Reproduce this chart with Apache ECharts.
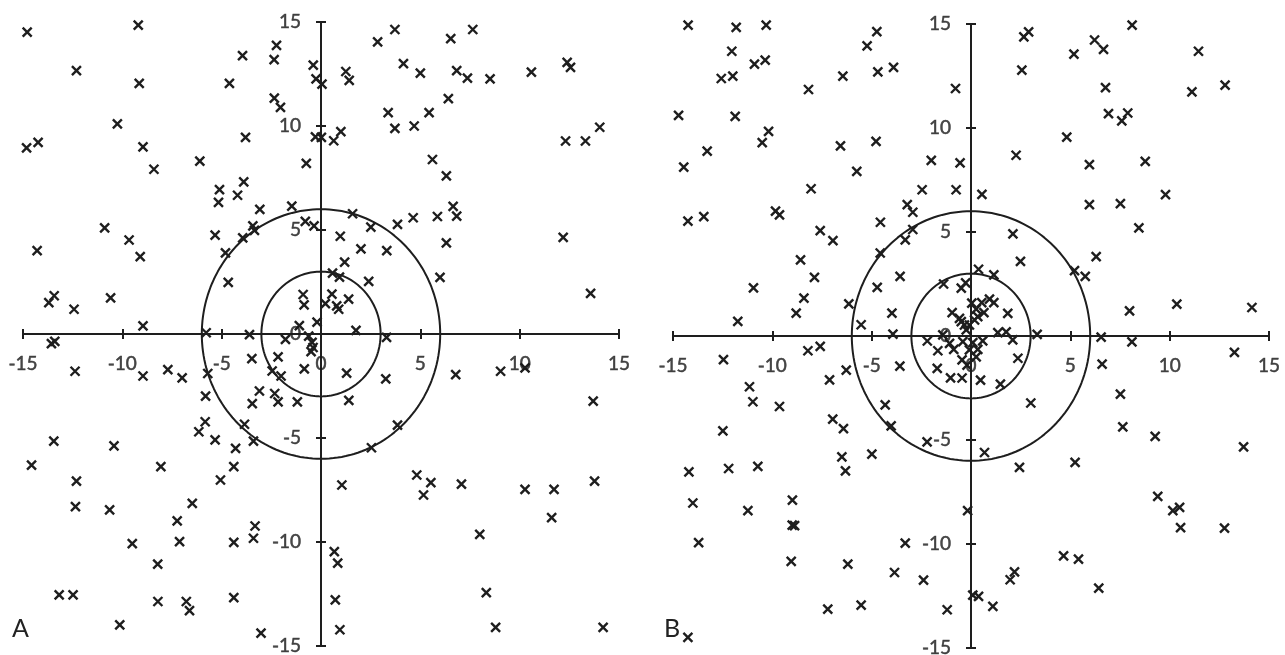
<!DOCTYPE html>
<html>
<head>
<meta charset="utf-8">
<script src="https://cdn.jsdelivr.net/npm/echarts@6/dist/echarts.min.js"></script>
<style>
html,body{margin:0;padding:0;background:#fff;}
#chart{width:1285px;height:655px;}
</style>
</head>
<body>
<div id="chart"></div>
<script>
// ---- data ----
const axisMin = -15, axisMax = 15, axisStep = 5;
const tickLabels = [-15, -10, -5, 0, 5, 10, 15];
const circleRadii = [3, 6];
const panelLabels = ['A', 'B'];

const pointsA = [
  [-14.79,14.51],[-9.20,14.85],[-12.31,12.66],[-9.15,12.05],[-14.82,8.95],[-14.24,9.21],[-10.25,10.10],[-8.96,9.00],[-8.41,7.92],[-6.10,8.31],
  [-14.29,4.01],[-10.89,5.10],[-9.66,4.52],[-9.10,3.72],[-13.70,1.51],[-13.43,1.84],[-12.43,1.19],[-10.59,1.74],[-8.96,0.39],
  [-3.95,13.38],[-4.61,12.05],[-2.24,13.88],[-2.36,13.19],[-0.39,12.93],[-0.25,12.27],[0.05,12.01],[-2.35,11.34],[-2.04,10.90],
  [-3.80,9.45],[-0.28,9.48],[0.02,9.45],[-0.74,8.20],[-5.11,6.94],[-5.16,6.33],[-3.89,7.31],[-4.20,6.67],[-3.08,5.99],[-1.47,6.15],
  [-0.79,5.41],[-0.35,5.20],[-5.33,4.75],[-3.43,5.20],[-3.35,4.98],[-3.94,4.62],[-4.81,3.90],[-4.67,2.48],[-0.90,1.90],[-0.85,1.40],
  [-0.20,0.57],[-1.09,0.40],[-5.78,0.06],[-3.60,-0.03],
  [3.72,14.64],[2.85,14.04],[6.53,14.20],[7.64,14.64],[4.15,13.00],[5.00,12.54],[1.25,12.62],[1.42,12.19],[6.83,12.66],[7.37,12.30],
  [8.51,12.27],[10.59,12.59],[12.39,13.06],[12.56,12.82],[6.41,11.32],[3.38,10.64],[5.44,10.64],[3.72,9.89],[4.69,10.00],[1.00,9.73],
  [0.64,9.29],[5.61,8.39],[6.31,7.60],[12.31,9.28],[13.31,9.28],[14.03,9.94],[6.65,6.14],[6.83,5.67],[5.86,5.65],[4.64,5.59],
  [3.85,5.27],[2.51,5.14],[1.59,5.78],[0.97,4.70],[6.31,4.38],[3.31,4.01],[2.01,4.09],[12.19,4.65],[1.19,3.46],[0.58,2.93],
  [0.93,2.73],[2.40,2.53],[5.99,2.72],[13.57,1.95],[0.55,1.92],[0.22,1.46],[0.79,1.35],[0.89,1.19],[1.39,1.68],[1.76,0.17],[3.30,-0.16],
  [-0.62,-0.10],[-0.45,-0.40],[-0.40,-0.65],[-0.50,-0.85],
  [-13.57,-0.46],[-13.40,-0.35],[-1.79,-0.26],[-12.38,-1.79],[-8.96,-2.02],[-7.71,-1.71],[-6.99,-2.11],[-5.70,-1.90],[-3.48,-1.18],[-2.16,-1.10],
  [-2.46,-1.78],[-2.01,-2.02],[-0.84,-1.68],[-5.81,-2.99],[-3.10,-2.74],[-3.46,-3.35],[-2.33,-2.86],[-2.16,-3.26],[-1.19,-3.26],[-5.83,-4.22],
  [-6.15,-4.70],[-5.33,-5.09],[-3.85,-4.34],[-3.40,-5.15],[-4.30,-5.50],[-4.39,-6.38],[-5.06,-7.02],[-6.48,-8.14],[-7.24,-8.98],[-3.32,-9.23],
  [-3.40,-9.82],[-4.39,-10.02],[-7.12,-9.98],[-9.50,-10.08],[-8.22,-11.06],[-13.45,-5.15],[-10.42,-5.38],[-14.57,-6.30],[-8.06,-6.38],[-12.31,-7.07],
  [-12.36,-8.30],[-10.64,-8.46],[-13.18,-12.54],[-12.48,-12.54],[-8.21,-12.86],[-6.78,-12.86],[-6.62,-13.30],[-4.39,-12.67],[-10.13,-13.98],[-3.02,-14.38],
  [1.29,-1.88],[3.26,-2.16],[6.78,-1.95],[9.04,-1.79],[10.27,-1.63],[1.40,-3.19],[3.85,-4.38],[2.54,-5.47],[13.70,-3.23],[4.82,-6.78],
  [5.53,-7.15],[5.16,-7.74],[7.07,-7.22],[1.05,-7.26],[10.27,-7.47],[11.73,-7.47],[13.77,-7.07],[11.61,-8.83],[7.99,-9.63],[0.67,-10.46],
  [0.84,-11.02],[0.72,-12.78],[0.95,-14.22],[8.32,-12.43],[8.79,-14.10],[14.20,-14.10]
];

const pointsB = [
  [-14.24,14.95],[-11.82,14.84],[-10.31,14.95],[-12.04,13.69],[-10.90,13.07],[-10.36,13.26],[-12.57,12.38],[-11.99,12.49],[-14.72,10.61],[-11.87,10.56],
  [-10.19,9.84],[-10.51,9.30],[-13.28,8.89],[-14.46,8.12],[-14.25,5.52],[-13.45,5.74],[-9.84,6.00],[-9.64,5.82],[-8.18,11.85],[-6.45,12.49],
  [-5.23,13.95],[-4.74,14.63],[-4.69,12.70],[-3.90,12.91],[-0.78,11.90],[-6.57,9.14],[-4.78,9.36],[-5.75,7.91],[-8.05,7.08],[-2.00,8.44],
  [-0.55,8.32],[-2.46,7.03],[-0.75,7.03],[-3.21,6.32],[-2.93,5.95],[-4.56,5.47],[-2.93,5.12],[-3.31,4.62],[-7.59,5.07],[-6.95,4.59],
  [-4.57,3.99],[-8.58,3.66],[-7.88,2.82],[-10.95,2.31],[-8.41,1.82],[-8.80,1.10],[-11.74,0.70],[-6.15,1.54],[-5.53,0.54],[-4.72,2.34],
  [-3.57,2.87],[-3.98,1.10],[-3.93,0.09],
  [-1.38,2.50],[-0.49,2.30],[-0.27,2.55],[0.38,3.21],[1.15,2.94],[0.04,1.58],[0.54,1.60],[0.93,1.77],[1.15,1.60],[0.26,1.29],
  [0.65,1.12],[1.85,1.09],[-0.95,1.12],[-0.58,0.85],[-0.49,0.69],[-0.33,0.53],[-0.24,0.29],[-0.08,0.53],[0.18,0.77],[0.34,0.93],
  [1.35,0.16],[1.77,0.20],[3.33,0.08],[-1.42,0.05],[-2.20,-0.24],[-1.67,-0.71],[-1.08,-0.35],[-0.87,-0.64],[-0.41,-0.27],[0.09,-0.32],
  [0.59,-0.23],[0.34,-0.64],[0.26,-1.00],[-0.08,-0.67],[2.10,-0.19],[-0.45,-1.15],[-0.20,-1.40],[-3.58,-1.45],[-1.70,-1.56],[2.36,-1.07],
  [-1.03,-2.01],[-0.45,-2.02],[0.48,-2.12],[1.48,-2.31],[3.01,-3.22],
  [8.11,14.95],[2.66,14.38],[2.90,14.62],[6.22,14.23],[6.67,13.78],[5.18,13.55],[11.45,13.69],[2.56,12.78],[6.77,11.94],[11.12,11.74],
  [12.79,12.06],[6.92,10.69],[7.89,10.72],[7.59,10.34],[4.82,9.56],[2.27,8.69],[5.96,8.24],[8.77,8.40],[0.55,6.81],[5.96,6.32],
  [7.52,6.36],[9.79,6.80],[8.45,5.20],[2.11,4.91],[2.49,3.59],[6.30,3.82],[5.21,3.14],[5.75,2.87],[7.98,1.21],[10.36,1.53],
  [14.14,1.37],[6.55,-0.05],
  [-8.21,-0.71],[-7.59,-0.50],[-12.46,-1.14],[-7.12,-2.11],[-6.28,-1.64],[-11.15,-2.44],[-10.98,-3.16],[-9.64,-3.39],[-4.32,-3.31],[-4.02,-4.32],
  [-6.96,-4.00],[-6.42,-4.45],[-12.49,-4.56],[-2.21,-5.09],[-4.99,-5.68],[-6.50,-5.81],[-6.32,-6.48],[-14.20,-6.53],[-12.20,-6.37],[-10.73,-6.27],
  [-14.00,-8.03],[-11.23,-8.40],[-8.99,-7.89],[-9.00,-9.09],[-8.88,-9.12],[-13.71,-9.93],[-9.05,-10.84],[-6.20,-10.97],[-3.85,-11.37],[-3.31,-9.96],
  [-2.39,-11.74],[-7.21,-13.13],[-5.53,-12.94],[-1.20,-13.16],[-14.25,-14.49],[-0.17,-8.40],
  [8.10,-0.28],[13.26,-0.79],[6.60,-1.35],[7.52,-2.79],[7.64,-4.37],[9.27,-4.83],[13.72,-5.33],[0.68,-5.60],[2.44,-6.32],[5.24,-6.08],
  [9.40,-7.71],[10.16,-8.40],[10.50,-8.24],[10.55,-9.21],[12.76,-9.24],[4.66,-10.57],[5.41,-10.73],[2.19,-11.34],[1.97,-11.72],[6.43,-12.12],
  [0.09,-12.46],[0.38,-12.52],[1.10,-13.00]
];

// ---- chart ----
const INK = '#1e1e1e';
const LABEL = '#1a1a1a';
const FONT = 'Lato, "Open Sans", sans-serif';

function circlePath(r) {
  const pts = [];
  for (let a = 0; a <= 360; a += 2) {
    const t = a * Math.PI / 180;
    pts.push([r * Math.cos(t), r * Math.sin(t)]);
  }
  return pts;
}

const boxes = [
  { left: 23, top: 22, width: 596, height: 624 },
  { left: 673, top: 24, width: 596, height: 624 }
];

function mkAxis(gridIndex, inside) {
  return {
    type: 'value', gridIndex: gridIndex,
    min: axisMin, max: axisMax, interval: axisStep,
    splitLine: { show: false },
    axisLine: { show: true, onZero: true, lineStyle: { color: INK, width: 2 } },
    axisTick: { show: true, inside: inside, length: 5, lineStyle: { color: INK, width: 2 } },
    axisLabel: { show: false }
  };
}

const labelStyle = { color: LABEL, fontSize: 19, fontFamily: FONT, textBorderColor: LABEL, textBorderWidth: 0.5 };

const grids = [], xAxes = [], yAxes = [], series = [];
[pointsA, pointsB].forEach((pts, p) => {
  const gMain = grids.length;
  grids.push(Object.assign({ outerBoundsMode: 'none', containLabel: false }, boxes[p]));
  xAxes.push(mkAxis(gMain, false));
  yAxes.push(mkAxis(gMain, false));
  const ai = xAxes.length - 1;
  // overlay grid with inward ticks so the ticks cross the axis lines
  const gOver = grids.length;
  grids.push(Object.assign({ outerBoundsMode: 'none', containLabel: false }, boxes[p]));
  xAxes.push(mkAxis(gOver, true));
  yAxes.push(mkAxis(gOver, true));

  circleRadii.forEach(r => {
    series.push({
      type: 'line', xAxisIndex: ai, yAxisIndex: ai, data: circlePath(r),
      showSymbol: false, smooth: false, silent: true,
      lineStyle: { color: INK, width: 2 }, z: 2
    });
  });
  series.push({
    type: 'scatter', xAxisIndex: ai, yAxisIndex: ai, data: pts,
    symbol: 'path://M0,0 L10,10 M10,0 L0,10', symbolSize: 9,
    itemStyle: { color: INK, borderColor: INK, borderWidth: 2.4, opacity: 1 },
    silent: true, z: 3
  });
  const hidden = { color: 'rgba(0,0,0,0)', borderWidth: 0 };
  // tick labels along the x axis (below the line)
  series.push({
    type: 'scatter', xAxisIndex: ai, yAxisIndex: ai, symbol: 'circle', symbolSize: 1, silent: true, z: 4,
    itemStyle: hidden,
    data: tickLabels.map(v => [v, 0]),
    label: Object.assign({ show: true, position: 'inside', offset: [0, 30], align: 'center', verticalAlign: 'middle',
      formatter: d => String(d.value[0]) }, labelStyle)
  });
  // tick labels along the y axis (left of the line)
  series.push({
    type: 'scatter', xAxisIndex: ai, yAxisIndex: ai, symbol: 'circle', symbolSize: 1, silent: true, z: 4,
    itemStyle: hidden,
    data: tickLabels.map(v => [0, v]),
    label: Object.assign({ show: true, position: 'inside', offset: [-20, 0], align: 'right', verticalAlign: 'middle',
      formatter: d => String(d.value[1]) }, labelStyle)
  });
});

const chart = echarts.init(document.getElementById('chart'), null, { renderer: 'canvas' });
chart.setOption({
  animation: false,
  backgroundColor: '#fff',
  grid: grids,
  xAxis: xAxes,
  yAxis: yAxes,
  series: series,
  graphic: [
    { type: 'text', left: 12, top: 616, style: { text: panelLabels[0], fontSize: 25, fontFamily: FONT, fill: '#222' } },
    { type: 'text', left: 664, top: 616, style: { text: panelLabels[1], fontSize: 25, fontFamily: FONT, fill: '#222' } }
  ]
});
</script>
</body>
</html>
